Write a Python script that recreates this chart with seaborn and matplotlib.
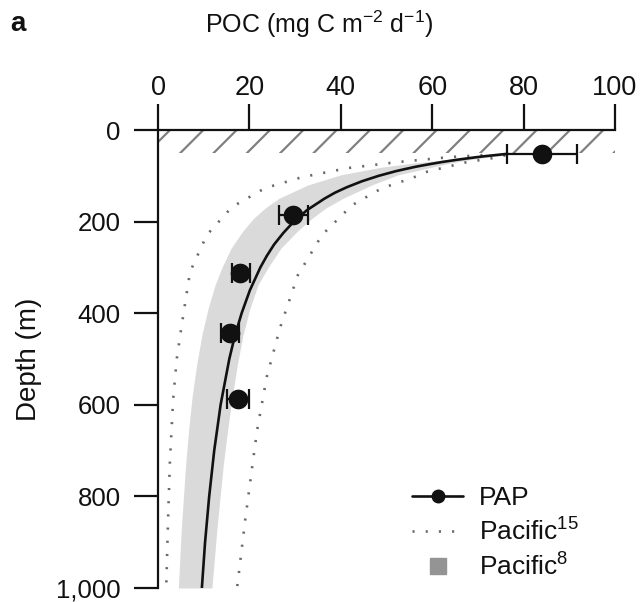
import matplotlib
matplotlib.use("Agg")
import matplotlib.pyplot as plt
from matplotlib.lines import Line2D
import seaborn as sns
import pandas as pd

# ---- data ----
# PAP measurements
pap_depth = [52, 186, 312, 443, 587]
pap_poc = [84.0, 29.5, 17.9, 15.8, 17.4]
pap_err_lo = [76.4, 26.5, 16.2, 13.8, 15.1]
pap_err_hi = [91.7, 32.9, 20.1, 17.7, 19.9]

# PAP fitted curve
fit_depth = [52, 57, 60, 65, 70, 75, 80, 85, 90, 100, 112, 125, 137, 150, 175, 200, 225, 250,
             275, 300, 350, 400, 450, 500, 600, 700, 800, 900, 1000]
fit_poc = [76.5, 71.7, 69.2, 65.4, 62.1, 59.2, 56.5, 54.2, 52.0, 48.3, 44.6, 41.3, 38.7, 36.4,
           32.6, 29.7, 27.4, 25.4, 23.8, 22.4, 20.1, 18.3, 16.8, 15.6, 13.7, 12.3, 11.2, 10.3, 9.6]

# Pacific (ref 15) bounds, dotted
p15_lo_depth = [55, 59, 70, 83, 103, 127, 168, 229, 310, 419, 500, 590, 725, 850, 1000]
p15_lo_poc = [71, 64, 52.5, 41.6, 31.5, 23.4, 16.2, 10.7, 7.0, 5.3, 4.1, 3.3, 2.6, 2.2, 1.8]
p15_hi_depth = [55, 59, 70, 91, 105, 127, 164, 229, 317, 432, 539, 655, 736, 850, 1000]
p15_hi_poc = [76, 74.8, 67.6, 58.9, 55.6, 49.0, 42.5, 35.9, 30.6, 26.7, 23.8, 21.7, 20.6, 19.1, 17.3]

# Pacific (ref 8) envelope, grey band
p8_depth = [55, 62, 72, 81, 98, 120, 149, 170, 192, 220, 258, 300, 338, 390, 448, 510, 579,
            650, 730, 870, 1000]
p8_lo = [74, 66, 56, 49, 40.0, 32.8, 26.5, 23.5, 21.0, 18.6, 16.0, 14.0, 12.5, 10.95, 9.6,
         8.5, 7.5, 6.75, 6.05, 5.1, 4.45]
p8_hi = [76, 70, 64, 60, 52.5, 46.8, 40.5, 36.8, 33.8, 30.6, 26.9, 24.1, 21.9, 20.1, 18.6,
         17.4, 16.3, 15.3, 14.3, 12.9, 11.8]

# mixed layer (hatched)
mixed_layer = [0, 50]

x_ticks = [0, 20, 40, 60, 80, 100]
y_ticks = [0, 200, 400, 600, 800, 1000]
y_ticklabels = ["0", "200", "400", "600", "800", "1,000"]

# ---- style ----
sns.set_style("ticks")
plt.rcParams["font.family"] = ["Liberation Sans", "DejaVu Sans"]
plt.rcParams["mathtext.fontset"] = "custom"
plt.rcParams["mathtext.rm"] = "Liberation Sans"
plt.rcParams["mathtext.it"] = "Liberation Sans:italic"
plt.rcParams["mathtext.bf"] = "Liberation Sans:bold"
plt.rcParams["mathtext.default"] = "regular"
plt.rcParams["hatch.linewidth"] = 1.6
for k in ["text.color", "axes.labelcolor", "xtick.color", "ytick.color", "axes.edgecolor"]:
    plt.rcParams[k] = "#111111"

fig = plt.figure(figsize=(6.43, 6.02), dpi=100)
ax = fig.add_axes([158 / 643, 1 - 588 / 602, (615 - 158) / 643, (588 - 130) / 602])

# hatched mixed layer
ax.fill_between([0, 100], mixed_layer[0], mixed_layer[1], facecolor="none",
                edgecolor="#808080", hatch="/", linewidth=0, zorder=1)

# grey band
ax.fill_betweenx(p8_depth, p8_lo, p8_hi, color="#dadada", linewidth=0, zorder=1)

# dotted Pacific lines
dot_style = dict(color="#6a6a6a", linewidth=1.9, linestyle=(0, (0.8, 4.2)), zorder=2)
ax.plot(p15_lo_poc, p15_lo_depth, **dot_style)
ax.plot(p15_hi_poc, p15_hi_depth, **dot_style)

# fitted curve
fit_df = pd.DataFrame({"poc": fit_poc, "depth": fit_depth})
sns.lineplot(data=fit_df, x="poc", y="depth", sort=False, estimator=None,
             color="#111111", linewidth=1.9, ax=ax, zorder=3)

# error bars + points
xerr = [[p - lo for p, lo in zip(pap_poc, pap_err_lo)],
        [hi - p for p, hi in zip(pap_poc, pap_err_hi)]]
ax.errorbar(pap_poc, pap_depth, xerr=xerr, fmt="none", ecolor="#111111",
            elinewidth=1.6, capsize=7, capthick=1.6, zorder=4)
pap_df = pd.DataFrame({"poc": pap_poc, "depth": pap_depth})
sns.scatterplot(data=pap_df, x="poc", y="depth", color="#111111", s=200,
                linewidth=0, ax=ax, zorder=5)

# axes
ax.set_xlim(0, 100)
ax.set_ylim(1000, 0)
ax.xaxis.tick_top()
ax.set_xticks(x_ticks)
ax.set_xticklabels([str(v) for v in x_ticks])
ax.set_yticks(y_ticks)
ax.set_yticklabels(y_ticklabels)
ax.set_xlabel("")
ax.set_ylabel("Depth (m)", fontsize=20, labelpad=10)
for s in ["bottom", "right"]:
    ax.spines[s].set_visible(False)
for s in ["top", "left"]:
    ax.spines[s].set_linewidth(1.6)
ax.tick_params(axis="x", direction="out", length=18.7, width=1.6, labelsize=19.5, pad=2.0,
               top=True, bottom=False, labeltop=True, labelbottom=False)
ax.tick_params(axis="y", direction="out", length=17.3, width=1.6, labelsize=18.5, pad=9.5)

fig.text(319 / 643, 1 - 24 / 602, "POC (mg C m$^{-2}$ d$^{-1}$)", fontsize=18,
         ha="center", va="center")
fig.text(10 / 643, 1 - 24 / 602, "a", fontsize=20, fontweight="bold", ha="left", va="center")

handles = [
    Line2D([0], [0], color="#111111", linewidth=1.9, marker="o", markersize=9),
    Line2D([0], [0], **dot_style),
    Line2D([0], [0], color="#949494", linestyle="none", marker="s", markersize=11),
]
labels = ["PAP", "Pacific$^{15}$", "Pacific$^{8}$"]
leg = ax.legend(handles, labels, frameon=False, fontsize=19, loc="upper left",
                bbox_to_anchor=(412 / 643, 1 - 486 / 602), bbox_transform=fig.transFigure,
                handlelength=1.95, handletextpad=0.6, labelspacing=0.3, borderpad=0,
                borderaxespad=0)

fig.savefig("out.png", dpi=100)
